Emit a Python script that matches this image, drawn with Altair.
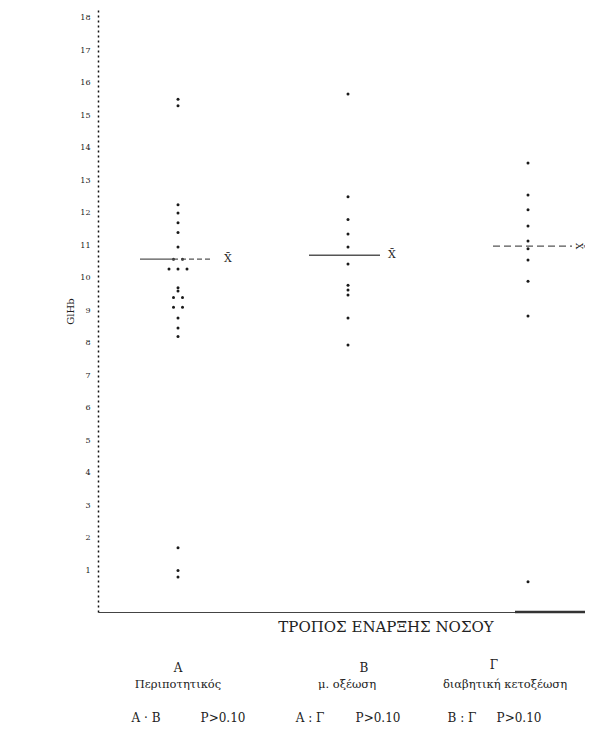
import altair as alt
import pandas as pd

# ---- data ----
groups = ["Α", "Β", "Γ"]
group_names = ["Περιποτητικός", "μ. οξέωση", "διαβητική κετοξέωση"]
values_A = [15.5, 15.3, 12.25, 12.0, 11.7, 11.4, 10.95, 10.58, 10.58, 10.28, 10.28,
            10.28, 9.7, 9.6, 9.4, 9.4, 9.1, 9.1, 8.77, 8.46, 8.2, 1.7, 1.0, 0.8]
values_B = [15.66, 12.5, 11.8, 11.35, 10.95, 10.43, 9.78, 9.63, 9.48, 8.77, 7.94]
values_G = [13.54, 12.55, 12.1, 11.6, 11.14, 10.9, 10.55, 9.9, 8.83, 0.65]
means = [10.58, 10.70, 10.98]
y_ticks = list(range(1, 19))
comparisons = ["Α · Β", "Α : Γ", "Β : Γ"]
p_texts = ["P>0.10", "P>0.10", "P>0.10"]
x_title = "ΤΡΟΠΟΣ ΕΝΑΡΞΗΣ ΝΟΣΟΥ"
y_title = "GlHb"

# ---- layout (plot-area units: x in px from y axis) ----
W, H = 487, 602
YDOM = [-0.277, 18.246]
group_pos = [80, 250, 430]
mean_left = [42, 211, 395]
mean_mid = [75, 282, 474]
mean_right = [112, 282, 474]
FONT = "DejaVu Serif"

rows = []
for g, p, vals in zip(groups, group_pos, [values_A, values_B, values_G]):
    for v in vals:
        rows.append({"group": g, "pos": p, "value": v})
pts = pd.DataFrame(rows)
pts["n"] = pts.groupby(["group", "value"])["value"].transform("size")
pts["k"] = pts.groupby(["group", "value"]).cumcount()
pts["x"] = pts["pos"] + (pts["k"] - (pts["n"] - 1) / 2) * 9

xs = alt.Scale(domain=[0, W], nice=False, zero=False)
ys = alt.Scale(domain=YDOM, nice=False, zero=False)
XAX = alt.Axis(labels=False, ticks=False, title=None, grid=False,
               domainColor="#444", domainWidth=1.2)
YAX = alt.Axis(values=y_ticks, ticks=False, grid=False, domainDash=[2, 3],
               domainColor="#111", domainWidth=1.5, labelFont=FONT, labelFontSize=8,
               labelPadding=8, labelColor="#222", title=y_title, titleFont=FONT,
               titleFontSize=10, titleFontWeight="normal", titleColor="#222")

def X(f):
    return alt.X(f, scale=xs, axis=XAX, title=None)

def Y(f):
    return alt.Y(f, scale=ys, axis=YAX, title=y_title)

points = alt.Chart(pts).mark_circle(size=9, color="#1a1a1a", opacity=1).encode(
    x=X("x:Q"), y=Y("value:Q"))

mdf = pd.DataFrame({"group": groups, "mean": means, "x1": mean_left, "xm": mean_mid,
                    "x2": mean_right, "lx": [130, 294, 481]})
mean_solid = alt.Chart(mdf[mdf.group != "Γ"]).mark_rule(color="#555", strokeWidth=1.4).encode(
    x=X("x1:Q"), x2="xm:Q", y=Y("mean:Q"))
mean_dot = alt.Chart(mdf[mdf.group == "Α"]).mark_rule(
    color="#555", strokeWidth=1.4, strokeDash=[5, 3]).encode(
    x=X("xm:Q"), x2="x2:Q", y=Y("mean:Q"))
mean_dash = alt.Chart(mdf[mdf.group == "Γ"]).mark_rule(
    color="#555", strokeWidth=1.4, strokeDash=[7, 4]).encode(
    x=X("x1:Q"), x2="x2:Q", y=Y("mean:Q"))
xbar = alt.Chart(mdf[mdf.group != "Γ"]).mark_text(
    text="X̄", font=FONT, fontSize=11, color="#222").encode(x=X("lx:Q"), y=Y("mean:Q"))
xbar_g = alt.Chart(mdf[mdf.group == "Γ"]).mark_text(
    text="X̄", font=FONT, fontSize=9, color="#222", angle=90).encode(x=X("lx:Q"), y=Y("mean:Q"))

# bottom axis thick segment
seg = alt.Chart(pd.DataFrame({"a": [417], "b": [487], "v": [YDOM[0]]})).mark_rule(
    color="#333", strokeWidth=2.5).encode(x=X("a:Q"), x2="b:Q", y=Y("v:Q"))

def txt(df, size):
    return alt.Chart(df).mark_text(font=FONT, fontSize=size, color="#222",
                                   baseline="middle").encode(
        x=X("x:Q"), y=Y("v:Q"), text="t:N")

title_df = pd.DataFrame({"t": [x_title], "x": [288], "v": [-0.74]})
letters_df = pd.DataFrame({"t": groups, "x": [80, 266, 396], "v": [-2.0, -2.0, -1.91]})
names_df = pd.DataFrame({"t": group_names, "x": [80, 249, 407], "v": [-2.52] * 3})
comp_df = pd.DataFrame({"t": comparisons, "x": [48, 212, 364], "v": [-3.54] * 3})
p_df = pd.DataFrame({"t": p_texts, "x": [125, 280, 421], "v": [-3.54] * 3})

chart = alt.layer(
    points, mean_solid, mean_dot, mean_dash, xbar, xbar_g, seg,
    txt(title_df, 15), txt(letters_df, 12), txt(names_df, 11.5),
    txt(comp_df, 12), txt(p_df, 12),
).properties(
    width=W, height=H,
    padding={"left": 90, "top": 2, "right": 0, "bottom": 115},
    autosize=alt.AutoSizeParams(type="none"),
).configure_view(stroke=None)

chart.save("out.html", embed_options={"renderer": "svg", "actions": False})
